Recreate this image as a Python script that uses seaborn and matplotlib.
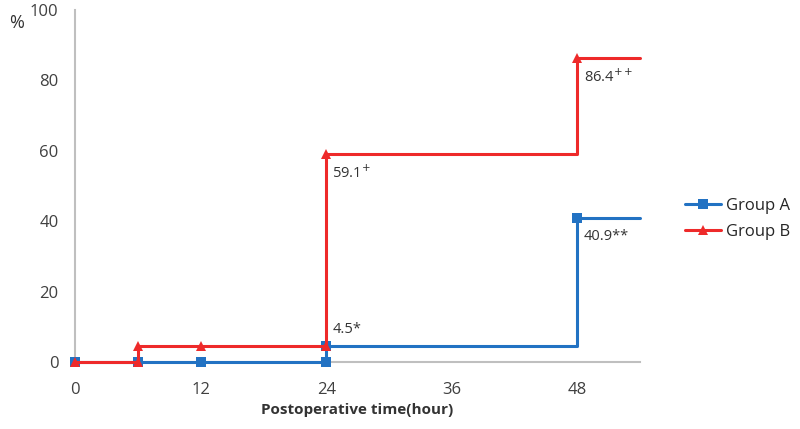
#!/usr/bin/env python3
"""
Step chart of cumulative percentage by postoperative time, Group A vs Group B
"""

import pandas as pd
import matplotlib.pyplot as plt
import matplotlib.colors as mcolors
import seaborn as sns

# ------------------------------------------------------------
# Data (step vertices, as entered in the original sheet)
# ------------------------------------------------------------
hours_a = [0, 6, 12, 24, 24, 48]
group_a = [0, 0, 0, 0, 4.5, 40.9]
hours_b = [0, 6, 6, 12, 24, 24, 48]
group_b = [0, 0, 4.5, 4.5, 4.5, 59.1, 86.4]

x_ticks = [0, 12, 24, 36, 48]
y_ticks = [0, 20, 40, 60, 80, 100]
x_end = 54

# value labels: (hour, value, text)
value_labels = [
    (24, 4.5, "4.5*"),
    (48, 40.9, "40.9**"),
    (24, 59.1, "59.1$^{+}$"),
    (48, 86.4, "86.4$^{++}$"),
]

blue = "#2272C3"
red = "#EE2A2A"


def build_frame():
    # carry the last value out to the end of the axis
    a = pd.DataFrame({"hour": hours_a + [x_end], "pct": group_a + [group_a[-1]]})
    a["group"] = "Group A"
    b = pd.DataFrame({"hour": hours_b + [x_end], "pct": group_b + [group_b[-1]]})
    b["group"] = "Group B"
    return pd.concat([a, b], ignore_index=True)


def plot(df, outfile="out.png"):
    sns.set_style("white")
    plt.rcParams["font.family"] = ["Open Sans", "DejaVu Sans"]

    fig = plt.figure(figsize=(8, 4.29), dpi=100)
    ax = fig.add_axes([0.094, 0.156, 0.706, 0.821])

    sns.lineplot(
        data=df, x="hour", y="pct", hue="group", style="group",
        palette={"Group A": blue, "Group B": red},
        markers={"Group A": "s", "Group B": "^"},
        dashes=False, sort=False, estimator=None,
        drawstyle="steps-post", markevery=slice(0, -1),
        linewidth=2.2, markersize=7, markeredgewidth=0,
        clip_on=False, zorder=3,
        ax=ax,
    )
    # red series sits over the blue one where they overlap at 0
    for ln in ax.lines:
        if mcolors.same_color(ln.get_color(), red):
            ln.set_zorder(5)

    for h, v, t in value_labels:
        if v < 10:
            # small value: label sits above the step
            ax.text(h + 0.6, v + 2.5, t, fontsize=10.5, color="#333333", va="bottom", ha="left")
        else:
            ax.text(h + 0.6, v - 3.0, t, fontsize=10.5, color="#333333", va="top", ha="left")

    ax.set_xlim(0, x_end)
    ax.set_ylim(0, 100)
    ax.set_xticks(x_ticks)
    ax.set_yticks(y_ticks)
    ax.tick_params(axis="both", length=0, labelsize=12, labelcolor="#404040")
    ax.tick_params(axis="x", pad=14)
    ax.tick_params(axis="y", pad=12)
    for s in ["top", "right"]:
        ax.spines[s].set_visible(False)
    for s in ["left", "bottom"]:
        ax.spines[s].set_color("#BFBFBF")
        ax.spines[s].set_linewidth(1.5)
    ax.set_xlabel("Postoperative time(hour)", fontsize=11, fontweight="bold", color="#333333", labelpad=4)
    ax.set_ylabel("")
    fig.text(0.012, 0.935, "%", fontsize=13, color="#333333")

    ax.legend(
        title=None, frameon=False, fontsize=12, loc="center left",
        bbox_to_anchor=(0.856, 0.49), bbox_transform=fig.transFigure,
        handlelength=2.2, handletextpad=0.25, labelspacing=0.6,
        borderaxespad=0, borderpad=0,
    )

    fig.savefig(outfile, dpi=100)
    plt.close(fig)


if __name__ == "__main__":
    plot(build_frame())
